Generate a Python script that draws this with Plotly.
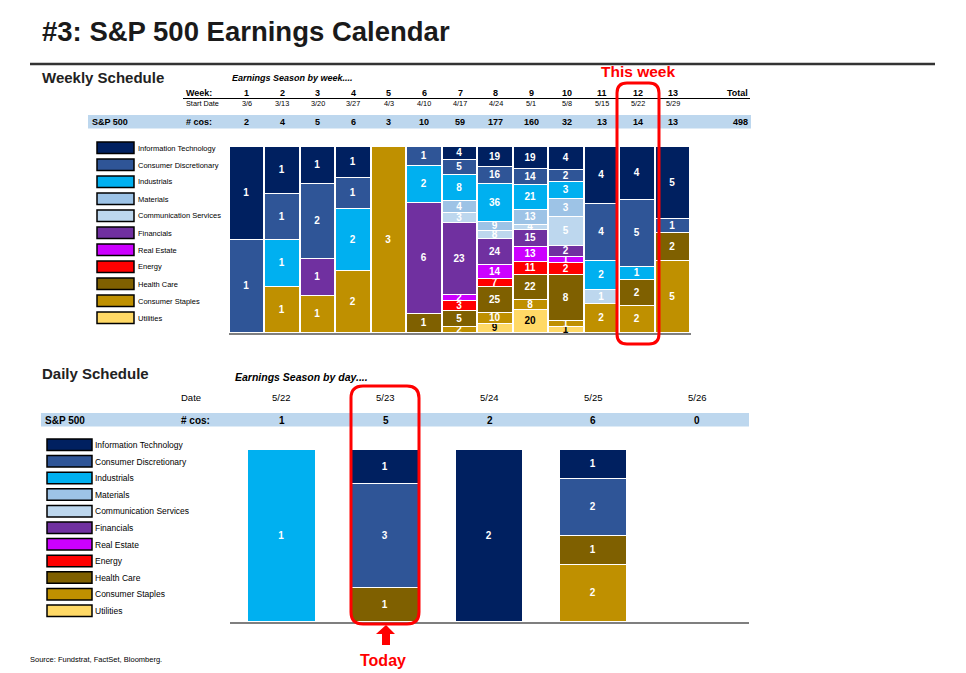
import plotly.graph_objects as go

W, H = 966, 673
def px(x): return x / W
def py(y): return 1 - y / H

# ---------------- data ----------------
sectors = ["Information Technology", "Consumer Discretionary", "Industrials", "Materials",
           "Communication Services", "Financials", "Real Estate", "Energy", "Health Care",
           "Consumer Staples", "Utilities"]
colors = ["#002060", "#2F5597", "#00B0F0", "#9DC3E6", "#BDD7EE", "#7030A0",
          "#CC00FF", "#FF0000", "#7F6000", "#BF9000", "#FFD966"]
text_colors = ["white"] * 10 + ["black"]

week_nums = list(range(1, 14))
week_dates = ["3/6", "3/13", "3/20", "3/27", "4/3", "4/10", "4/17", "4/24", "5/1", "5/8", "5/15", "5/22", "5/29"]

wk_it   = [1, 1, 1, 1, 0, 0, 4, 19, 19, 4, 4, 4, 5]
wk_cd   = [1, 1, 2, 1, 0, 1, 5, 16, 14, 2, 4, 5, 1]
wk_ind  = [0, 1, 0, 2, 0, 2, 8, 36, 21, 3, 2, 1, 0]
wk_mat  = [0, 0, 0, 0, 0, 0, 4, 9, 13, 3, 0, 0, 0]
wk_comm = [0, 0, 0, 0, 0, 0, 3, 8, 4, 5, 1, 0, 0]
wk_fin  = [0, 0, 1, 0, 0, 6, 23, 24, 15, 2, 0, 0, 0]
wk_re   = [0, 0, 0, 0, 0, 0, 2, 14, 13, 1, 0, 0, 0]
wk_en   = [0, 0, 0, 0, 0, 0, 3, 7, 11, 2, 0, 0, 0]
wk_hc   = [0, 0, 0, 0, 0, 1, 5, 25, 22, 8, 0, 2, 2]
wk_cs   = [0, 1, 1, 2, 3, 0, 2, 10, 8, 1, 2, 2, 5]
wk_ut   = [0, 0, 0, 0, 0, 0, 0, 9, 20, 1, 0, 0, 0]
weekly = [wk_it, wk_cd, wk_ind, wk_mat, wk_comm, wk_fin, wk_re, wk_en, wk_hc, wk_cs, wk_ut]

day_labels = ["5/22", "5/23", "5/24", "5/25", "5/26"]
dy_it   = [0, 1, 2, 1, 0]
dy_cd   = [0, 3, 0, 2, 0]
dy_ind  = [1, 0, 0, 0, 0]
dy_mat  = [0, 0, 0, 0, 0]
dy_comm = [0, 0, 0, 0, 0]
dy_fin  = [0, 0, 0, 0, 0]
dy_re   = [0, 0, 0, 0, 0]
dy_en   = [0, 0, 0, 0, 0]
dy_hc   = [0, 1, 0, 1, 0]
dy_cs   = [0, 0, 0, 2, 0]
dy_ut   = [0, 0, 0, 0, 0]
daily = [dy_it, dy_cd, dy_ind, dy_mat, dy_comm, dy_fin, dy_re, dy_en, dy_hc, dy_cs, dy_ut]

week_totals = [sum(col) for col in zip(*weekly)]
day_totals = [sum(col) for col in zip(*daily)]

FONT = "Liberation Sans, Arial, sans-serif"

fig = go.Figure()

for i in reversed(range(len(sectors))):
    vals = weekly[i]
    fig.add_trace(go.Bar(
        x=week_nums, y=[v if v else None for v in vals],
        text=[f"<b>{v}</b>" if v else "" for v in vals], texttemplate="%{text}",
        textposition="inside", insidetextanchor="middle", textangle=0,
        textfont=dict(color=text_colors[i], size=10, family=FONT),
        marker=dict(color=colors[i], line=dict(color="white", width=1.5)),
        width=0.97, xaxis="x", yaxis="y", showlegend=False, hoverinfo="skip"))
for i in reversed(range(len(sectors))):
    vals = daily[i]
    fig.add_trace(go.Bar(
        x=day_labels, y=[v if v else None for v in vals],
        text=[f"<b>{v}</b>" if v else "" for v in vals], texttemplate="%{text}",
        textposition="inside", insidetextanchor="middle", textangle=0,
        textfont=dict(color=text_colors[i], size=10, family=FONT),
        marker=dict(color=colors[i], line=dict(color="white", width=1.5)),
        width=0.65, xaxis="x2", yaxis="y2", showlegend=False, hoverinfo="skip"))

shapes = []
ann = []

def A(x, y, text, size=9, bold=False, italic=False, color="black", xanchor="center",
      family=FONT, xref="paper"):
    t = text
    if bold:
        t = "<b>" + t + "</b>"
    if italic:
        t = "<i>" + t + "</i>"
    ann.append(dict(x=px(x) if xref == "paper" else x, y=py(y), xref=xref, yref="paper",
                    text=t, showarrow=False, xanchor=xanchor, yanchor="middle",
                    font=dict(size=size, color=color, family=family)))

def line(x0, y0, x1, y1, color="black", width=1):
    shapes.append(dict(type="line", xref="paper", yref="paper", x0=px(x0), y0=py(y0),
                       x1=px(x1), y1=py(y1), line=dict(color=color, width=width)))

def rect(x0, y0, x1, y1, fill, lc=None, lw=0, layer="below"):
    shapes.append(dict(type="rect", xref="paper", yref="paper", x0=px(x0), y0=py(y0),
                       x1=px(x1), y1=py(y1), fillcolor=fill, layer=layer,
                       line=dict(color=lc if lc else fill, width=lw)))

def rrect(x0, y0, x1, y1, r, color="red", width=3):
    pts = [("M", x0 + r, y0), ("L", x1 - r, y0), ("Q", x1, y0, x1, y0 + r),
           ("L", x1, y1 - r), ("Q", x1, y1, x1 - r, y1), ("L", x0 + r, y1),
           ("Q", x0, y1, x0, y1 - r), ("L", x0, y0 + r), ("Q", x0, y0, x0 + r, y0)]
    path = ""
    for p in pts:
        cmd = p[0]
        coords = p[1:]
        s = []
        for k in range(0, len(coords), 2):
            s.append(f"{px(coords[k]):.5f},{py(coords[k+1]):.5f}")
        path += cmd + " " + " ".join(s) + " "
    path += "Z"
    shapes.append(dict(type="path", xref="paper", yref="paper", path=path,
                       line=dict(color=color, width=width), layer="above"))

# Title
A(40, 31, "#3: S&P 500 Earnings Calendar", size=27.5, bold=True, color="#1a1a1a", xanchor="left")
line(30, 64, 935, 64, color="#333333", width=2.5)

# ---------- Weekly table ----------
A(40, 77, "Weekly Schedule", size=15, bold=True, color="#222222", xanchor="left")
A(230, 78, "Earnings Season by week....", size=9, bold=True, italic=True, xanchor="left")
A(184, 93, "Week:", size=9, bold=True, xanchor="left")
line(183, 98.5, 750, 98.5, width=1.2)
A(184, 103, "Start Date", size=7.3, xanchor="left")
rect(88, 115, 751, 128.5, "#BDD7EE")
A(90, 122, "S&P 500", size=9, bold=True, xanchor="left")
A(184, 122, "# cos:", size=9, bold=True, xanchor="left")
for w, d, t in zip(week_nums, week_dates, week_totals):
    A(w, 93, str(w), size=9, bold=True, xref="x")
    A(w, 103, d, size=7.3, xref="x")
    A(w, 122, str(t), size=9, bold=True, xref="x")
A(750, 93, "Total", size=9, bold=True, xanchor="right")
A(750, 122, str(sum(week_totals)), size=9, bold=True, xanchor="right")

# weekly legend
for i, s in enumerate(sectors):
    y0 = 142 + 17 * i
    rect(97, y0, 134, y0 + 11.5, colors[i], lc="black", lw=1.5)
    A(136, y0 + 6, s, size=7.5, xanchor="left")

A(638, 72, "This week", size=15.5, bold=True, color="#FF0000")
rrect(617, 83, 659, 344, 10)

# ---------- Daily table ----------
A(40, 373, "Daily Schedule", size=15, bold=True, color="#222222", xanchor="left")
A(233, 377, "Earnings Season by day....", size=10.5, bold=True, italic=True, xanchor="left")
A(191, 397, "Date", size=9.5)
rect(41, 413, 749, 426.5, "#BDD7EE")
A(43, 420, "S&P 500", size=10, bold=True, xanchor="left")
A(179, 420, "# cos:", size=10, bold=True, xanchor="left")
for k, (d, t) in enumerate(zip(day_labels, day_totals)):
    A(k, 397, d, size=9.5, xref="x2")
    A(k, 420, str(t), size=10, bold=True, xref="x2")

for i, s in enumerate(sectors):
    y0 = 439 + 16.6 * i
    rect(47, y0, 92, y0 + 11.5, colors[i], lc="black", lw=1.5)
    A(93, y0 + 6, s, size=8.5, xanchor="left")

rrect(351, 386, 419, 624, 12)
# arrow
arrow = [(382, 645), (382, 634), (376, 634), (386, 625), (395, 634), (390, 634), (390, 645)]
path = "M " + " L ".join(f"{px(a):.5f},{py(b):.5f}" for a, b in arrow) + " Z"
shapes.append(dict(type="path", xref="paper", yref="paper", path=path,
                   fillcolor="#FF0000", line=dict(color="#FF0000", width=0)))
A(383, 660, "Today", size=16, bold=True, color="#FF0000")

A(28, 659, "Source: Fundstrat, FactSet, Bloomberg.", size=7.5, xanchor="left")

fig.update_layout(
    width=W, height=H, autosize=False,
    margin=dict(l=0, r=0, t=0, b=0),
    paper_bgcolor="white", plot_bgcolor="rgba(0,0,0,0)",
    barmode="stack", barnorm="percent", bargap=0,
    uniformtext=dict(minsize=10, mode="show"),
    font=dict(family=FONT),
    showlegend=False,
    xaxis=dict(domain=[px(229), px(691)], range=[0.5, 13.5], showticklabels=False,
               showgrid=False, zeroline=False, showline=True, linecolor="#7F7F7F",
               linewidth=2, ticks="", anchor="y", fixedrange=True),
    yaxis=dict(domain=[py(333), py(147)], range=[0, 100], visible=False, fixedrange=True),
    xaxis2=dict(domain=[px(230), px(749)], type="category", categoryorder="array",
                categoryarray=day_labels, range=[-0.5, 4.5], showticklabels=False,
                showgrid=False, zeroline=False, showline=True, linecolor="#7F7F7F",
                linewidth=2, ticks="", anchor="y2", fixedrange=True),
    yaxis2=dict(domain=[py(622), py(450)], range=[0, 100], visible=False, fixedrange=True),
    shapes=shapes, annotations=ann,
)

fig.write_html("out.html", config={"displayModeBar": False},
               post_script="document.body.style.margin='0';document.body.style.overflow='hidden';")
